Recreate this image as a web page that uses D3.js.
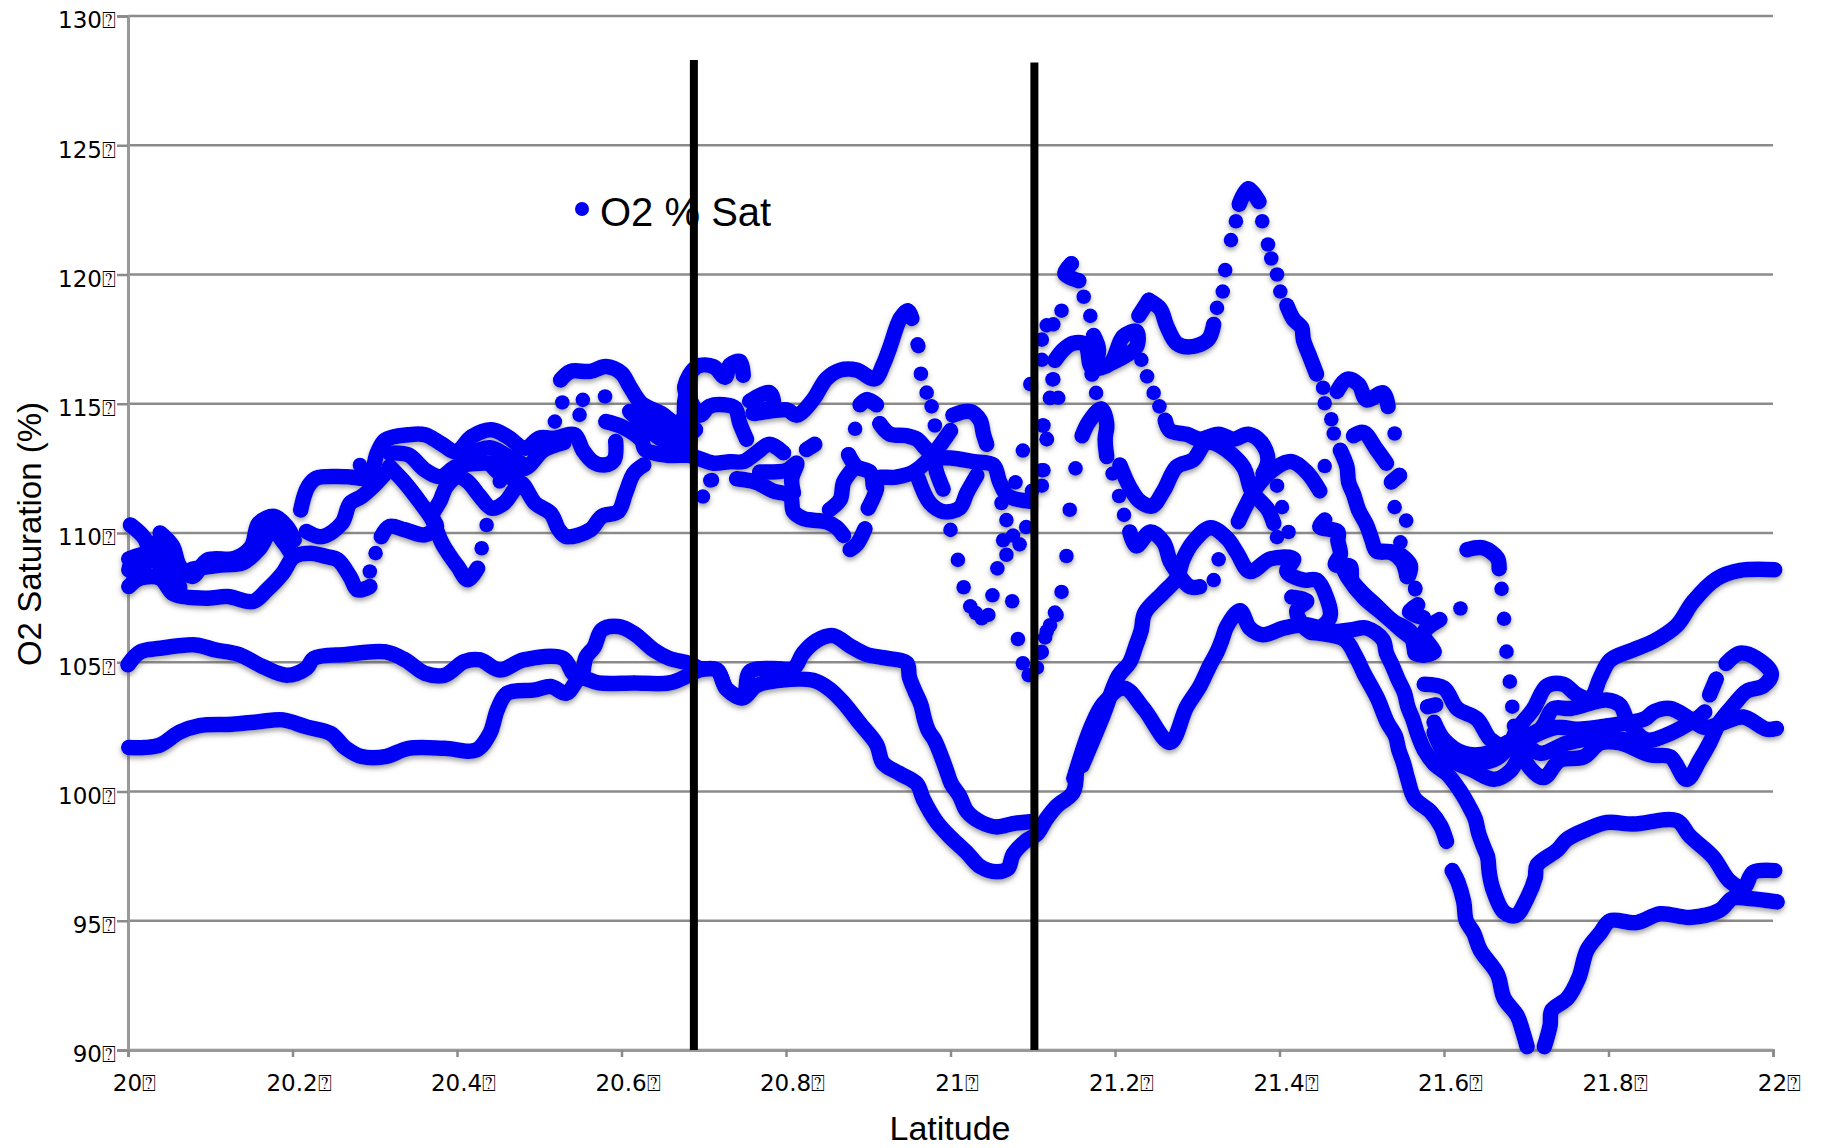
<!DOCTYPE html>
<html>
<head>
<meta charset="utf-8">
<script src="https://cdnjs.cloudflare.com/ajax/libs/d3/7.8.5/d3.min.js"></script>
<style>
html, body { margin: 0; background: #fff; }
svg { display: block; }
.tick text { font-family: "DejaVu Sans"; font-size: 23px; fill: #000; }
.title { font-family: "Liberation Sans"; fill: #000; }
</style>
</head>
<body>
<svg width="1821" height="1148"></svg>
<script>
const yTicks = [90, 95, 100, 105, 110, 115, 120, 125, 130];
const xTicks = [20, 20.2, 20.4, 20.6, 20.8, 21, 21.2, 21.4, 21.6, 21.8, 22];
const tofu = "\u2370";

// sections of the cruise track [latitude, O2 % sat]
const lowSouth = [[20.001,101.7],[20.02,101.7],[20.039,101.8],[20.063,102.3],[20.087,102.55],[20.126,102.6],[20.159,102.7],[20.188,102.77],[20.217,102.5],[20.246,102.25],[20.265,101.67],[20.284,101.35],[20.313,101.35],[20.341,101.67],[20.385,101.67],[20.423,101.6],[20.44,102.25],[20.449,103.16],[20.461,103.8],[20.495,103.93],[20.514,104.06],[20.533,103.8],[20.55,104.38],[20.572,104.2],[20.615,104.2],[20.658,104.2],[20.682,104.5],[20.695,104.7],[20.716,104.7],[20.728,103.96],[20.748,103.63],[20.764,104.1],[20.793,104.3],[20.833,104.3],[20.853,103.96],[20.87,103.43],[20.89,102.63],[20.91,101.83],[20.918,101.1],[20.938,100.7],[20.959,100.3],[20.967,99.7],[20.983,98.83],[21,98.23],[21.02,97.63],[21.036,97.1],[21.056,96.9],[21.07,97.03],[21.076,97.56],[21.092,98.1],[21.105,98.36],[21.117,98.96],[21.129,99.43],[21.149,99.96],[21.153,100.76]];
const lowNorth = [[20,104.9],[20.015,105.4],[20.039,105.54],[20.082,105.67],[20.106,105.48],[20.135,105.3],[20.164,104.83],[20.193,104.5],[20.217,104.77],[20.226,105.15],[20.265,105.3],[20.313,105.4],[20.337,105.09],[20.361,104.57],[20.385,104.5],[20.409,105.03],[20.428,105.09],[20.452,104.7],[20.481,105.09],[20.529,105.15],[20.541,104.57],[20.55,104.38],[20.557,105.2],[20.567,105.6],[20.576,106.25],[20.596,106.38],[20.615,106.12],[20.639,105.48],[20.658,105.15],[20.682,104.96],[20.695,104.76],[20.716,104.7],[20.728,103.96],[20.748,103.63],[20.756,104.63],[20.784,104.76],[20.809,104.76],[20.821,105.36],[20.837,105.83],[20.857,106.03],[20.878,105.63],[20.898,105.3],[20.922,105.16],[20.947,104.96],[20.95,104.43],[20.957,103.86],[20.964,103.36],[20.968,102.83],[20.973,102.36],[20.981,101.96],[20.988,101.43],[20.995,100.83],[21.001,100.3],[21.011,99.83],[21.02,99.23],[21.036,98.83],[21.056,98.63],[21.076,98.76],[21.097,98.83]];
const riseA = [[21.15,100.5],[21.171,102.5],[21.186,103.4],[21.211,104],[21.235,103.2],[21.267,101.9],[21.287,103.27],[21.303,104.06],[21.315,104.86],[21.324,105.39],[21.33,105.86],[21.336,106.39],[21.352,106.99],[21.364,106.32],[21.38,106.06],[21.405,106.32],[21.433,106.45],[21.461,106.19],[21.486,106.25],[21.506,106.32],[21.526,105.86],[21.53,105.35],[21.537,104.88],[21.544,104.35],[21.552,103.81],[21.556,103.28],[21.562,102.81],[21.568,102.21],[21.576,101.61],[21.588,101.07],[21.604,100.67],[21.62,100],[21.632,99.34],[21.638,98.94],[21.642,98.4],[21.648,97.87],[21.653,97.47],[21.655,96.87],[21.659,96.27],[21.673,95.33],[21.687,95.2],[21.701,95.87],[21.711,96.67],[21.713,97.14],[21.738,97.74],[21.749,98.14],[21.774,98.54],[21.798,98.8],[21.83,98.74],[21.883,98.87],[21.899,98.27],[21.927,97.47],[21.947,96.54],[21.964,96.27],[21.976,96.87],[22.002,96.94]];
const riseB = [[21.16,101],[21.185,102.9],[21.204,104.46],[21.218,105],[21.225,105.6],[21.232,106.25],[21.236,106.9],[21.259,107.7],[21.275,108.25],[21.283,109],[21.295,109.65],[21.316,110.2],[21.336,109.8],[21.348,109.25],[21.364,108.51],[21.389,109],[21.417,109],[21.409,108.51],[21.429,108.18],[21.445,108.18],[21.457,107.52],[21.461,106.72],[21.437,106.19],[21.421,106.99],[21.433,107.38],[21.415,107.52]];
const descentA = [[21.438,106.15],[21.479,105.88],[21.493,105.21],[21.503,104.55],[21.519,103.61],[21.531,102.68],[21.541,102.14],[21.545,101.61],[21.551,101.07],[21.556,100.47],[21.564,99.74],[21.584,99.21],[21.596,98.67],[21.603,98.07]];
const descentB = [[21.61,96.94],[21.617,96.5],[21.624,95.73],[21.627,95],[21.636,94.53],[21.644,93.87],[21.665,92.93],[21.673,92],[21.689,91.33],[21.695,90.79],[21.701,90.13]];
const climbB = [[21.722,90.13],[21.729,90.95],[21.731,91.53],[21.75,92],[21.764,92.8],[21.774,93.87],[21.79,94.53],[21.802,95],[21.834,94.93],[21.863,95.27],[21.899,95.13],[21.935,95.4],[21.951,95.87],[21.968,95.87],[22.005,95.73]];

const leftTop = [[20.21,110.89],[20.214,111.41],[20.219,111.8],[20.229,112.12],[20.265,112.18],[20.293,112.18],[20.303,113.09],[20.313,113.6],[20.341,113.8],[20.361,113.8],[20.38,113.47],[20.399,113.15],[20.418,113.73],[20.442,113.99],[20.461,113.73],[20.483,113.28],[20.5,113.67],[20.519,113.67],[20.543,113.8],[20.553,113.2],[20.565,112.76],[20.579,112.63],[20.591,112.83],[20.593,113.54]];
const leftA = [[20.003,110.31],[20.02,109.8],[20.03,109],[20.048,108.6],[20.063,107.9]];
const leftB = [[20.039,110],[20.054,109.5],[20.063,108.7],[20.078,108.32],[20.097,108.96],[20.13,109.02],[20.15,109.48],[20.159,110.38],[20.178,110.64],[20.193,110.25],[20.202,109.73]];
const leftC = [[20.001,107.93],[20.015,108.25],[20.039,108.25],[20.054,107.67],[20.068,107.54],[20.097,107.48],[20.121,107.54],[20.152,107.35],[20.169,107.8],[20.188,108.44],[20.202,109.09],[20.222,109.22],[20.241,109.09],[20.255,108.96],[20.27,108.31],[20.279,107.8],[20.294,107.93]];
const leftD = [[20.001,108.57],[20.006,108.96],[20.015,108.6],[20.027,109.22],[20.001,109]];
const leftE = [[20.078,108.6],[20.11,108.75],[20.14,108.85],[20.16,109.4],[20.175,110.1],[20.19,109.6],[20.2,109.1]];
const leftF = [[20.007,108.2],[20.03,109.6],[20.039,109.4],[20.05,108.2]];
const midA = [[20.308,109.86],[20.318,110.25],[20.337,110.12],[20.361,109.93],[20.375,110.25],[20.37,110.64],[20.38,111.28],[20.387,111.8],[20.401,112.18],[20.413,111.99],[20.428,111.41],[20.442,110.96],[20.457,111.15],[20.471,111.73],[20.478,111.93],[20.495,111.15],[20.514,110.76],[20.524,110.12],[20.533,109.86],[20.562,110.12],[20.576,110.64],[20.596,110.83],[20.605,111.54],[20.615,112.31],[20.627,112.63]];
const midB = [[20.318,112.57],[20.337,111.93],[20.356,111.15],[20.37,110.51],[20.375,110.12],[20.382,109.6],[20.392,109.09],[20.401,108.7],[20.413,108.19],[20.425,108.64]];
const midC = [[20.318,113.09],[20.341,113.02],[20.361,112.44],[20.38,112.18],[20.399,112.57],[20.428,112.7],[20.466,112.63],[20.483,112.5],[20.505,113.2],[20.53,113.5]];
const midD = [[20.217,110.06],[20.236,109.86],[20.26,110.38],[20.27,111.15],[20.284,111.41],[20.298,111.8],[20.313,112.31]];
const midE = [[20.41,113],[20.44,113.3],[20.46,113],[20.478,112.7]];
const midF = [[20.44,112.7],[20.452,112.3],[20.47,112.1]];
const topA = [[20.526,115.92],[20.538,116.25],[20.562,116.25],[20.581,116.44],[20.6,116.18],[20.61,115.67],[20.624,115.02],[20.648,114.63],[20.668,114.25],[20.682,114.89],[20.677,115.67],[20.692,116.44],[20.712,116.43],[20.726,116.03],[20.732,116.5],[20.744,116.63],[20.748,116.1]];
const topB = [[20.581,114.31],[20.6,114.12],[20.624,113.6],[20.629,113.22],[20.658,113],[20.682,113],[20.712,112.7],[20.732,112.76],[20.748,112.76],[20.764,113.1],[20.78,113.43],[20.797,113.1]];
const topC = [[20.624,114.5],[20.648,113.99],[20.672,113.73],[20.679,115.3],[20.695,114.56],[20.707,114.9],[20.724,114.96],[20.738,114.83],[20.744,114.23],[20.752,113.63]];
const topD = [[20.61,114.7],[20.63,114.1],[20.65,113.6],[20.675,113.4]];
const topE = [[20.64,114.3],[20.66,113.4],[20.69,114]];
const centreA = [[20.74,112.1],[20.764,111.96],[20.784,111.63],[20.805,111.43],[20.809,110.83],[20.821,110.56],[20.849,110.43],[20.861,110.23],[20.87,109.9]];
const centreB = [[20.768,112.36],[20.801,112.43],[20.813,112.7],[20.807,112.1],[20.809,111.56]];
const centreC = [[20.756,115.1],[20.78,115.43],[20.784,114.92],[20.76,114.63],[20.801,114.76],[20.813,114.56],[20.833,115.16],[20.849,115.96],[20.866,116.3],[20.886,116.3],[20.908,115.96],[20.918,116.5],[20.926,117.16],[20.939,118.3],[20.948,118.6],[20.953,118.3]];
const centreD = [[20.914,114.23],[20.926,113.83],[20.947,113.76],[20.959,113.63],[20.969,113.3],[20.979,112.9],[20.983,112.36],[20.991,111.7]];
const centreE = [[20.9,110.96],[20.91,111.7],[20.91,112.1],[20.934,112.16],[20.955,112.36],[20.975,112.9],[21,113.96]];
const centreF = [[20.975,112.9],[21,112.9],[21.028,112.76],[21.052,112.63],[21.06,111.96],[21.07,111.43],[21.097,111.23]];
const centreG = [[20.876,113.03],[20.886,112.56],[20.902,112.36],[20.906,111.83]];
const centreH = [[20.882,112.5],[20.87,111.96],[20.866,111.3],[20.853,110.9]];
const centreI = [[20.896,110.16],[20.886,109.56],[20.878,109.36]];
const centreJ = [[20.961,112.1],[20.975,111.16],[20.991,110.83],[21.011,110.96],[21.02,111.56],[21.032,112.23]];
const centreK = [[21.003,114.56],[21.024,114.7],[21.036,114.36],[21.04,113.83],[21.044,113.43]];
const centreL = [[20.89,114.96],[20.898,115.16],[20.91,114.96]];
const centreM = [[20.825,113.23],[20.835,113.43]];
const northA = [[21.147,120.42],[21.139,120.03],[21.156,119.76]];
const northB = [[21.174,117.64],[21.18,117.08],[21.172,116.15]];
const northC = [[21.127,116.68],[21.137,117.08],[21.149,117.34],[21.164,117.28],[21.172,116.4],[21.194,116.55],[21.21,117.6],[21.226,117.8],[21.226,117.2],[21.194,116.55]];
const northD = [[21.261,114.36],[21.267,113.96],[21.287,113.82],[21.303,113.63],[21.326,113.82],[21.344,113.63],[21.362,113.82],[21.378,113.5],[21.386,112.83],[21.38,112.3]];
const northE = [[21.241,119],[21.255,118.67],[21.263,118],[21.275,117.34],[21.291,117.2],[21.313,117.48],[21.32,118.07]];
const northF = [[21.229,118.41],[21.241,119]];
const peakA = [[21.351,122.72],[21.362,123.32],[21.375,122.82]];
const flankA = [[21.409,118.8],[21.417,118.27],[21.427,117.94],[21.429,117.48],[21.437,116.81],[21.445,116.15]];
const flankB = [[21.474,113.2],[21.482,112.56],[21.484,111.97],[21.49,111.5],[21.496,110.9],[21.506,110.3],[21.512,109.77],[21.518,109.3],[21.536,109.24],[21.549,108.9],[21.555,108.31]];
const flankC = [[21.47,115.48],[21.482,115.95],[21.496,115.75],[21.506,115.15],[21.526,115.42],[21.532,114.89]];
const flankD = [[21.49,113.76],[21.502,113.89],[21.518,113.23],[21.53,112.7]];
const flankE = [[21.546,112.23],[21.536,111.97]];
const crossA = [[21.206,112.63],[21.218,111.77],[21.23,111.23],[21.245,111.04],[21.259,111.63],[21.275,112.56],[21.295,112.83],[21.311,113.5],[21.326,113.4],[21.356,112.56],[21.366,111.63],[21.386,110.9],[21.393,110.37]];
const crossB = [[21.35,110.44],[21.36,111.1],[21.372,111.77],[21.397,112.56],[21.415,112.76],[21.433,112.36],[21.449,111.63]];
const crossC = [[21.218,110.04],[21.226,109.5],[21.243,110.04],[21.259,109.64],[21.267,108.91],[21.275,108.5],[21.291,107.92],[21.303,107.92]];
const crossD = [[21.16,113.76],[21.168,114.29],[21.183,114.8],[21.19,114.22],[21.188,113.63],[21.19,112.96]];
const crossE = [[21.455,110.5],[21.449,110.24],[21.471,110.04],[21.471,109.7],[21.474,109.18],[21.468,108.78],[21.486,108.71],[21.488,108.18],[21.498,107.78],[21.518,107.18],[21.538,106.59],[21.559,106.19],[21.567,105.33],[21.587,105.39],[21.575,106.12],[21.595,106.65]];
const southA = [[21.475,108.82],[21.483,108.28],[21.503,107.48],[21.523,106.95],[21.547,106.28],[21.565,105.75],[21.565,105.35],[21.588,105.41]];
const southB = [[21.519,109.29],[21.543,109.22],[21.559,108.75],[21.557,108.35]];
const southC = [[21.568,107.22],[21.558,106.95],[21.575,106.72]];
const arcA = [[21.628,109.35],[21.648,109.42],[21.665,109.02],[21.667,108.62]];
const fanA = [[21.576,104.15],[21.6,104],[21.616,103.21],[21.64,102.81],[21.657,102],[21.677,101.74],[21.689,102.41],[21.709,103.21],[21.725,104.08],[21.745,104.15],[21.762,103.74],[21.778,103.61],[21.79,104.41],[21.802,105.08],[21.83,105.48],[21.855,105.81],[21.883,106.42],[21.903,107.35],[21.931,108.22],[21.96,108.55],[22.002,108.58]];
const fanB = [[21.58,103.28],[21.59,103.35]];
const fanC = [[21.588,102.68],[21.6,102],[21.624,101.48],[21.653,101.48],[21.677,101.9],[21.717,102.41],[21.733,103.21],[21.754,103.21],[21.798,103.54],[21.814,103.34],[21.824,102.68],[21.846,102],[21.867,102.14],[21.907,102.81],[21.917,103.08]];
const fanD = [[21.588,102.28],[21.604,101.34],[21.636,100.81],[21.661,100.47],[21.681,100.81],[21.697,101.61],[21.701,101.07],[21.721,100.54],[21.741,101.21],[21.77,101.34],[21.79,101.88],[21.814,101.88],[21.851,101.41],[21.875,101.34],[21.895,100.47],[21.911,101.21],[21.923,101.88],[21.935,102.68],[21.952,103.34],[21.968,103.88],[21.988,104.08],[21.998,104.55],[21.98,105.15],[21.96,105.35],[21.943,104.95]];
const fanE = [[21.697,101.9],[21.717,101.48],[21.75,101.88],[21.79,102.08],[21.83,101.95]];
const fanF = [[21.7,102],[21.737,102.48],[21.762,102.41],[21.798,102.54],[21.844,102.81],[21.855,103.08],[21.875,103.21],[21.899,102.81],[21.917,102.48],[21.941,102.68],[21.964,102.88],[21.992,102.41],[22.004,102.44]];
const fanG = [[21.923,103.74],[21.931,104.35]];
const fanH = [[21.61,101.2],[21.64,101.1],[21.665,101.3],[21.69,102.2]];

const runs = [lowSouth, lowNorth, riseA, riseB, descentA, descentB, climbB, leftTop, leftA, leftB, leftC, leftD, leftE, leftF, midA, midB, midC, midD, midE, midF, topA, topB, topC, topD, topE, centreA, centreB, centreC, centreD, centreE, centreF, centreG, centreH, centreI, centreJ, centreK, centreL, centreM, northA, northB, northC, northD, northE, northF, peakA, flankA, flankB, flankC, flankD, flankE, crossA, crossB, crossC, crossD, crossE, southA, southB, southC, arcA, fanA, fanB, fanC, fanD, fanE, fanF, fanG, fanH];

// separate dots, where the ship moved quickly
const looseDots = [[20.294,108.51],[20.301,109.22],[20.282,112.63],[20.43,109.41],[20.436,110.31],[20.452,111.99],[20.528,115.05],[20.519,114.31],[20.553,115.15],[20.549,114.57],[20.58,115.28],[20.699,111.41],[20.71,112.05],[20.708,112.03],[20.884,114.03],
[20.961,117.23],[20.964,116.16],[20.971,115.43],[20.977,114.9],[20.981,114.16],[20.96,117.3],[21,110.12],[21.009,108.96],[21.016,107.9],[21.024,107.16],[21.031,106.9],[21.038,106.7],[21.046,106.83],[21.051,107.59],[21.075,107.36],[21.057,108.63],[21.068,109.16],[21.064,109.72],[21.076,109.9],[21.084,109.56],[21.092,110.23],[21.082,105.9],[21.088,104.96],[21.095,104.5],[21.105,104.79],[21.109,105.36],[21.111,105.4],[21.115,105.96],[21.117,106.19],[21.121,106.43],[21.127,106.92],[21.129,106.83],[21.135,107.72],[21.141,109.11],[21.145,110.9],[21.152,112.5],[21.079,111.96],[21.088,113.19],[21.062,111.16],[21.068,110.5],[21.111,112.43],[21.111,111.83],[21.099,111.63],[21.117,113.63],[21.113,114.16],[21.097,115.76],[21.121,115.23],[21.131,115.23],[21.124,115.94],
[21.117,118.03],[21.125,118.07],[21.135,118.6],[21.111,117.48],[21.111,116.7],[21.125,115.95],[21.121,115.22],[21.112,114.16],[21.117,113.63],[21.113,112.43],[21.162,119.14],[21.17,118.4],[21.177,115.42],[21.197,112.3],[21.205,111.43],[21.211,110.7],[21.32,108.18],[21.326,108.98],
[21.232,116.7],[21.239,116.06],[21.247,115.42],[21.254,114.9],[21.324,118.71],[21.331,119.34],[21.334,120.17],[21.341,121.33],[21.347,122.06],[21.379,122.06],[21.386,121.16],[21.39,120.62],[21.397,120],[21.401,119.34],[21.453,115.62],[21.455,115.02],[21.463,114.4],[21.466,113.85],[21.54,113.85],[21.54,111],[21.554,110.48],[21.547,109.64],[21.455,112.59],[21.565,107.82],[21.567,107.12],[21.397,111.83],[21.403,111],[21.397,109.84],[21.411,110.04],[21.565,107.88],[21.62,107.08],[21.67,107.84],[21.673,106.68],[21.676,105.41],[21.68,104.25],[21.683,103.28],[21.685,102.54]];

const markerR = 7.3;
const bandWidth = 15.5;
const x = d3.scaleLinear().domain([20, 22]).range([128, 1773]);
const y = d3.scaleLinear().domain([90, 130]).range([1050, 16]);

const svg = d3.select("svg");

const defs = svg.append("defs");
const shadow = defs.append("filter").attr("id", "soft")
    .attr("x", "-5%").attr("y", "-5%").attr("width", "110%").attr("height", "110%");
shadow.append("feDropShadow").attr("dx", 0).attr("dy", 3).attr("stdDeviation", 2.5)
    .attr("flood-color", "#555").attr("flood-opacity", 0.55);

// gridlines
svg.append("g").selectAll("line")
    .data(yTicks)
    .enter().append("line")
    .attr("x1", x(20)).attr("x2", x(22))
    .attr("y1", d => y(d)).attr("y2", d => y(d))
    .attr("stroke", "#8b8b8b").attr("stroke-width", 2.5);

let axisLeft = d3.axisLeft(y).tickValues(yTicks).tickSize(11).tickPadding(1)
    .tickFormat(d => d + tofu);
let axisBottom = d3.axisBottom(x).tickValues(xTicks).tickSize(7).tickPadding(18)
    .tickFormat(d => d + tofu);

let gy = svg.append("g").attr("transform", "translate(128,0)").call(axisLeft);
let gx = svg.append("g").attr("transform", "translate(0,1050)").call(axisBottom);
svg.selectAll(".domain").attr("stroke", "#999").attr("stroke-width", 3);
svg.selectAll(".tick line").attr("stroke", "#8b8b8b").attr("stroke-width", 2.5);
gy.selectAll("text").attr("dy", "0.56em").attr("y", -1);
gx.selectAll("text").attr("dx", 6);

// the track
let line = d3.line().x(d => x(d[0])).y(d => y(d[1])).curve(d3.curveCatmullRom.alpha(0.5));
let marks = svg.append("g").attr("filter", "url(#soft)");
marks.selectAll("path")
    .data(runs)
    .enter().append("path")
    .attr("d", line)
    .attr("fill", "none")
    .attr("stroke", "#0000f5")
    .attr("stroke-width", bandWidth)
    .attr("stroke-linecap", "round")
    .attr("stroke-linejoin", "round");
marks.selectAll("circle")
    .data(looseDots.concat(runs.flat()))
    .enter().append("circle")
    .attr("cx", d => x(d[0]))
    .attr("cy", d => y(d[1]))
    .attr("r", markerR)
    .attr("fill", "#0000f5");

// boundaries of the front
const boundaries = [[20.688, 128.3], [21.102, 128.2]];
svg.append("g").selectAll("line")
    .data(boundaries)
    .enter().append("line")
    .attr("x1", d => x(d[0])).attr("x2", d => x(d[0]))
    .attr("y1", d => y(d[1])).attr("y2", y(90))
    .attr("stroke", "#000").attr("stroke-width", 8);

// legend
svg.append("circle").attr("cx", 582).attr("cy", 209).attr("r", 7).attr("fill", "#0000f5");
svg.append("text").attr("class", "title").attr("x", 600).attr("y", 226)
    .attr("font-size", 40).text("O2 % Sat");

svg.append("text").attr("class", "title").attr("x", 950).attr("y", 1140)
    .attr("text-anchor", "middle").attr("font-size", 34).text("Latitude");
svg.append("text").attr("class", "title")
    .attr("transform", "translate(41,534) rotate(-90)")
    .attr("text-anchor", "middle").attr("font-size", 33).text("O2 Saturation (%)");
</script>
</body>
</html>
